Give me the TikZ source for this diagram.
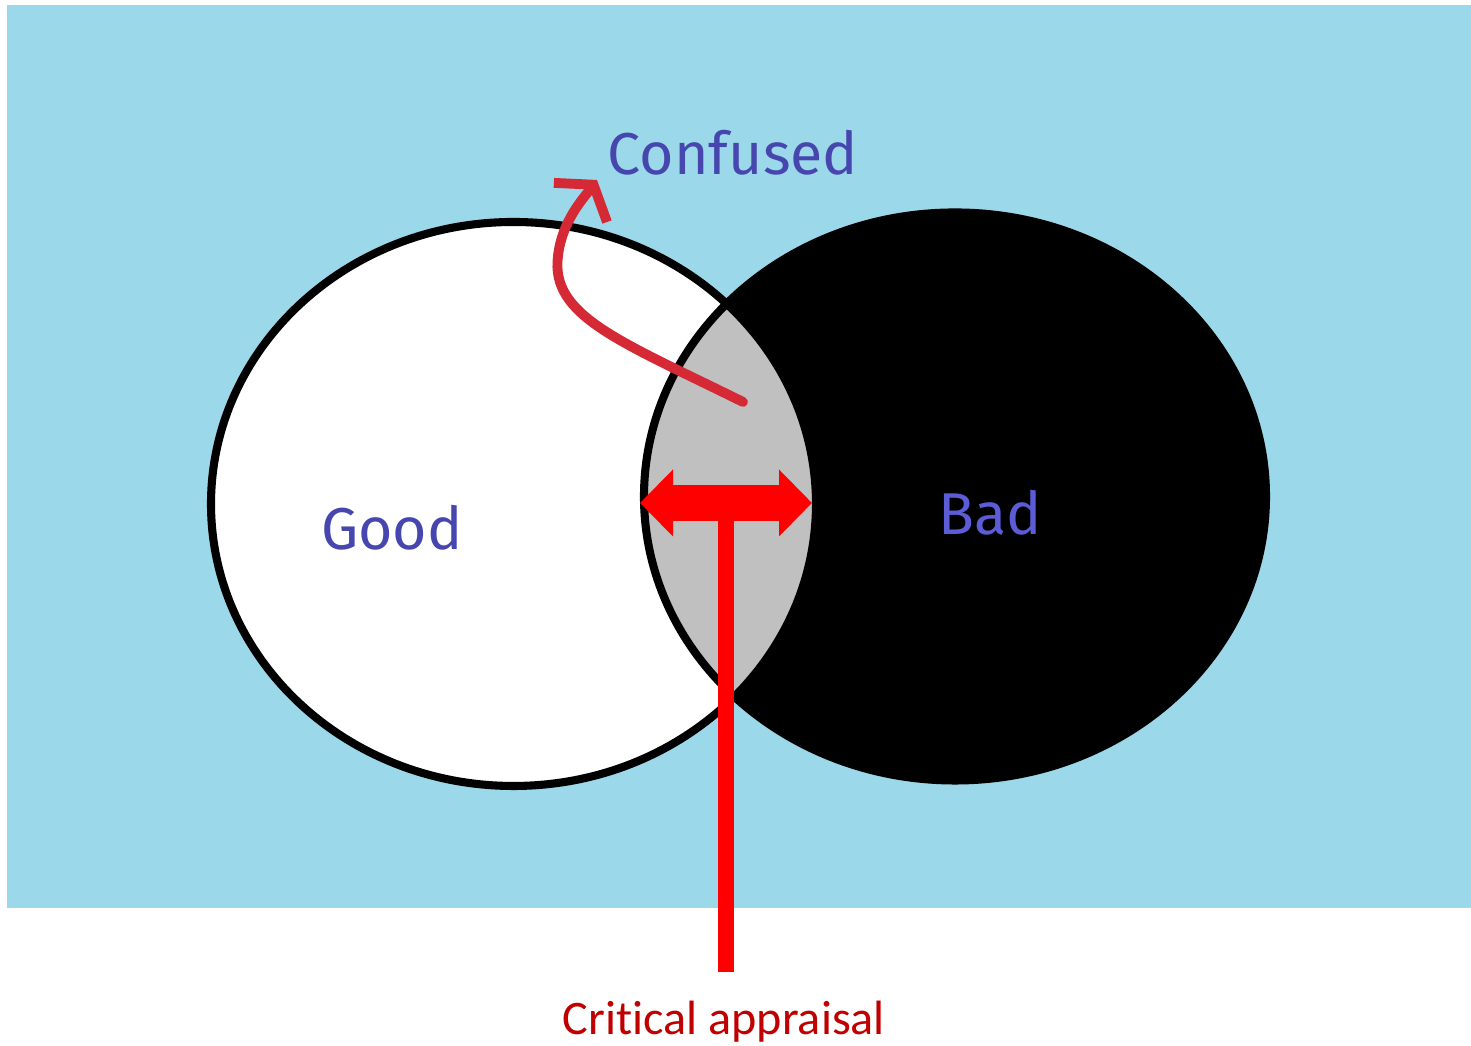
\documentclass[tikz,border=0pt]{standalone}
\usepackage{fontspec}
\newfontfamily\handfont{Fira Sans}
\newfontfamily\calibrifont[Ligatures=NoCommon]{Carlito}
\usetikzlibrary{arrows.meta}
\definecolor{csky}{HTML}{9BD8E9}
\definecolor{cgrey}{HTML}{C0C0C0}
\definecolor{cink}{HTML}{4646AE}
\definecolor{cinkb}{HTML}{5C5CD6}
\definecolor{ccrayon}{HTML}{D52A35}
\definecolor{cbright}{HTML}{FF0000}
\definecolor{ccaption}{HTML}{C00000}
\tikzset{
  every picture/.style={line width=2.3pt},
  ring/.style={draw=black, line width=2.3pt},
  hand/.style={font=\handfont\fontsize{16.8}{20}\selectfont, text=#1, inner sep=0pt, anchor=base},
  hand/.default=cink,
  bigarrow/.style={{Triangle[length=3.3mm,width=6.5mm]}-{Triangle[length=3.3mm,width=6.5mm]}, draw=cbright, line width=10pt},
  stemline/.style={draw=cbright, line width=4.5pt},
  crayon/.style={-{Straight Barb[length=2.2mm,width=6.6mm]}, draw=ccrayon, line width=2.8pt, line cap=round},
  caption/.style={font=\calibrifont\fontsize{13.7}{17}\selectfont, text=ccaption, inner sep=0pt, anchor=base},
}

\begin{document}
\begin{tikzpicture}
  \useasboundingbox (0,0) rectangle (14.71,10.46);
  % sky background
  \fill[csky] (0.07,1.38) rectangle (14.71,10.41);
  \coordinate (goodc) at (5.135,5.42);
  \coordinate (badc) at (9.55,5.495);
  % the two sets
  \fill[white] (goodc) ellipse [x radius=3.025, y radius=2.82];
  \fill[black] (badc) ellipse [x radius=3.11, y radius=2.84];
  \begin{scope}
    \clip (goodc) ellipse [x radius=3.025, y radius=2.82];
    \fill[cgrey] (badc) ellipse [x radius=3.11, y radius=2.84];
  \end{scope}
  \draw[ring] (goodc) ellipse [x radius=3.025, y radius=2.82];
  \draw[ring] (badc) ellipse [x radius=3.11, y radius=2.84];
  % labels
  \node[hand] (good) at (3.92,4.96) {Good};
  \node[hand=cinkb] (bad) at (9.90,5.11) {Bad};
  \node[hand] (confused) at (7.33,8.71) {Confused};
  % overlap arrows
  \coordinate (apL) at (6.40,5.43);
  \coordinate (apR) at (8.12,5.43);
  \coordinate (apM) at (7.26,5.43);
  \coordinate (stemend) at (7.26,0.74);
  \draw[stemline] (apM) -- (stemend);
  \draw[bigarrow] (apL) -- (apR);
  \node[caption] (appraisal) at (7.24,0.11) {Critical appraisal};
  % way out of the grey zone
  \coordinate (cstart) at (7.43,6.44);
  \coordinate (ctip) at (5.97,8.66);
  \draw[crayon] (cstart) .. controls (6.2,7.05) and (5.5,7.3) .. (5.58,7.9)
    .. controls (5.62,8.25) and (5.83,8.47) .. (ctip);
\end{tikzpicture}
\end{document}
